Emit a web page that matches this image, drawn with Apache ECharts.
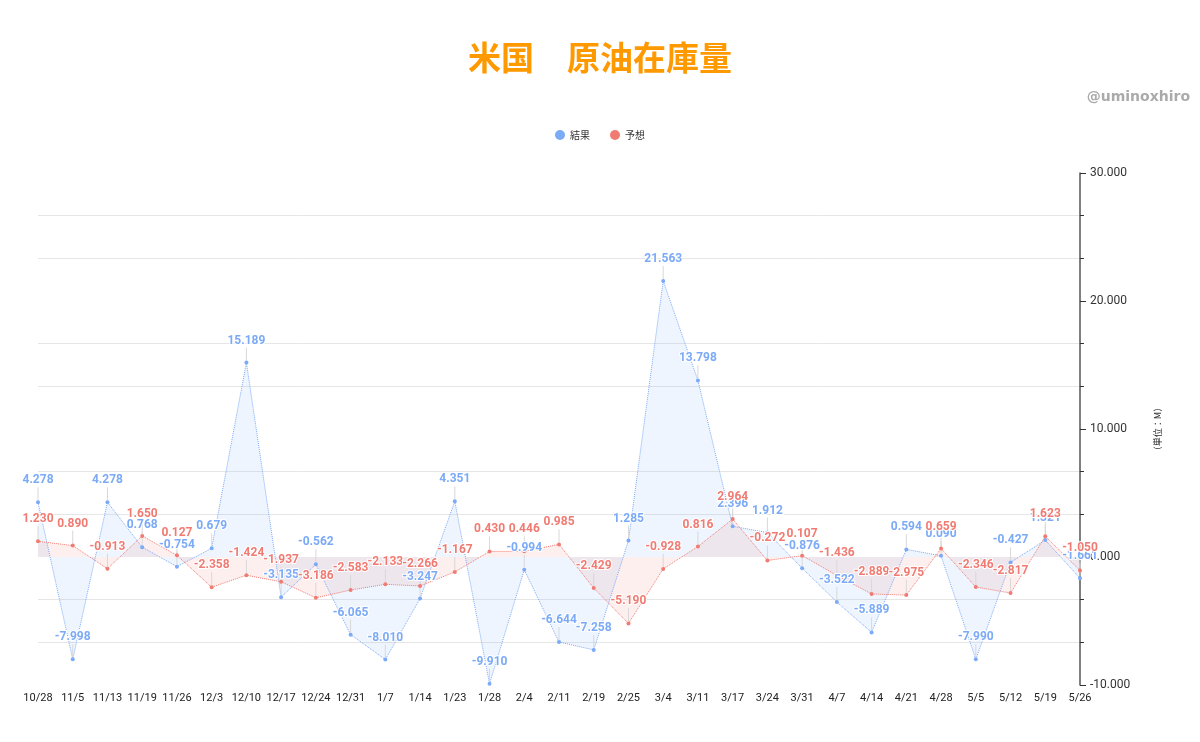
<!DOCTYPE html>
<html>
<head>
<meta charset="utf-8">
<script src="https://cdn.jsdelivr.net/npm/echarts@6/dist/echarts.min.js"></script>
<style>
  html, body { margin: 0; padding: 0; background: #fff; }
  #chart { width: 1200px; height: 742px; }
</style>
</head>
<body>
<div id="chart"></div>
<script>
// 週次データ（単位：M）
const dates = ['10/28', '11/5', '11/13', '11/19', '11/26', '12/3', '12/10', '12/17', '12/24', '12/31',
  '1/7', '1/14', '1/23', '1/28', '2/4', '2/11', '2/19', '2/25', '3/4', '3/11',
  '3/17', '3/24', '3/31', '4/7', '4/14', '4/21', '4/28', '5/5', '5/12', '5/19', '5/26'];
const results = [4.278, -7.998, 4.278, 0.768, -0.754, 0.679, 15.189, -3.135, -0.562, -6.065,
  -8.010, -3.247, 4.351, -9.910, -0.994, -6.644, -7.258, 1.285, 21.563, 13.798,
  2.396, 1.912, -0.876, -3.522, -5.889, 0.594, 0.090, -7.990, -0.427, 1.321, -1.661];
const forecasts = [1.230, 0.890, -0.913, 1.650, 0.127, -2.358, -1.424, -1.937, -3.186, -2.583,
  -2.133, -2.266, -1.167, 0.430, 0.446, 0.985, -2.429, -5.190, -0.928, 0.816,
  2.964, -0.272, 0.107, -1.436, -2.889, -2.975, 0.659, -2.346, -2.817, 1.623, -1.050];

const BLUE = '#7baaf7', RED = '#f07b72';

let myChart = echarts.init(document.getElementById('chart'));

function makeSeries(name, data, color, fill) {
    return {
        name: name,
        type: 'line',
        data: data,
        symbol: 'circle',
        symbolSize: 4,
        itemStyle: { color: color },
        lineStyle: { color: color, width: 1, type: 'dotted' },
        areaStyle: { color: fill },
        label: {
            show: true,
            position: 'top',
            distance: 4,
            color: color,
            fontFamily: 'Roboto',
            fontWeight: 'bold',
            fontSize: 12,
            textBorderColor: '#fff',
            textBorderWidth: 2,
            formatter: p => p.value.toFixed(3)
        },
        labelLayout: { dy: -10 },
        labelLine: { show: true, lineStyle: { color: '#d8d8d8', width: 1 } }
    };
}

myChart.setOption({
    backgroundColor: '#fff',
    animation: false,
    title: {
        text: '米国　原油在庫量',
        left: 'center',
        top: 36,
        textStyle: { color: '#ff9900', fontSize: 33, fontWeight: 'bold', fontFamily: 'Noto Sans CJK JP' }
    },
    graphic: [{
        type: 'text',
        right: 10,
        top: 90,
        style: { text: '@uminoxhiro', fill: '#aaa', font: 'bold 14px "DejaVu Sans"' }
    }],
    legend: {
        top: 125,
        left: 'center',
        icon: 'circle',
        itemWidth: 10,
        itemHeight: 10,
        itemGap: 20,
        textStyle: { fontSize: 10, color: '#333', fontFamily: 'Noto Sans CJK JP' },
        data: ['結果', '予想']
    },
    grid: { left: 38, right: 120, top: 173, bottom: 57, containLabel: false },
    xAxis: {
        type: 'category',
        data: dates,
        boundaryGap: false,
        axisLine: { show: false },
        axisTick: { show: false },
        axisLabel: { color: '#222', fontSize: 11, fontFamily: 'Roboto', margin: 8, interval: 0 }
    },
    yAxis: {
        type: 'value',
        position: 'right',
        min: -10,
        max: 30,
        interval: 10,
        name: '（単位：M）',
        nameLocation: 'middle',
        nameRotate: 90,
        nameGap: 73,
        nameTextStyle: { fontSize: 9, color: '#333', fontFamily: 'Noto Sans CJK JP' },
        axisLine: { show: true, lineStyle: { color: '#555', width: 1.5 } },
        axisTick: { show: true, length: 6, lineStyle: { color: '#333' } },
        minorTick: { show: true, splitNumber: 3, length: 4, lineStyle: { color: '#333' } },
        splitLine: { show: false },
        minorSplitLine: { show: true, lineStyle: { color: '#e6e6e6' } },
        axisLabel: { color: '#333', fontSize: 12, fontFamily: 'Roboto', margin: 10,
            formatter: v => v.toFixed(3) }
    },
    series: [
        makeSeries('結果', results, BLUE, 'rgba(123,170,247,0.17)'),
        makeSeries('予想', forecasts, RED, 'rgba(240,123,114,0.17)')
    ]
});
</script>
</body>
</html>
